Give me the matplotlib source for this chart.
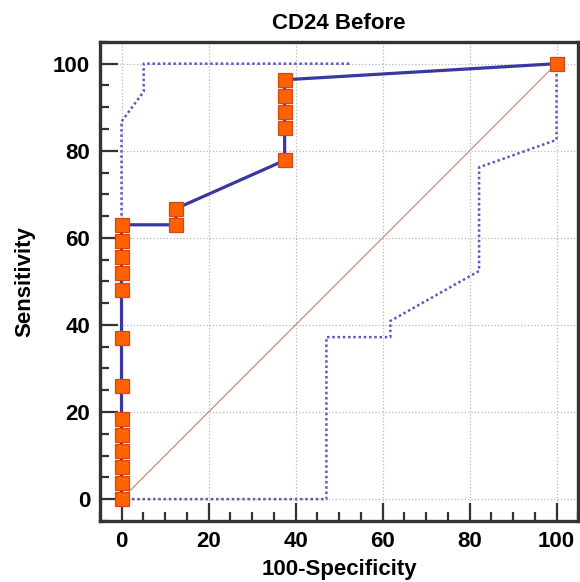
import matplotlib.pyplot as plt
import numpy as np
from matplotlib.ticker import MultipleLocator

plt.rcParams['font.family'] = ['Liberation Sans', 'DejaVu Sans']
plt.rcParams['font.weight'] = 'bold'

# ROC points (100-Specificity, Sensitivity)
fpr = [0, 0, 0, 0, 0, 0, 0, 0, 0, 0, 0, 0, 0,
       12.5, 12.5,
       37.5, 37.5, 37.5, 37.5, 37.5,
       100]
tpr = [0, 3.7, 7.4, 11.1, 14.8, 18.5, 25.9, 37.0, 48.1, 51.9, 55.6, 59.3, 63.0,
       63.0, 66.7,
       77.8, 85.2, 88.9, 92.6, 96.3,
       100]

# confidence bounds
upper_x = [0, 0, 5.1, 5.1, 52.8]
upper_y = [0, 86.7, 93.6, 100, 100]
lower_x = [0, 47.1, 47.1, 61.8, 61.8, 82.2, 82.2, 100, 100]
lower_y = [0, 0, 37.2, 37.2, 40.9, 52.4, 76.2, 82.5, 100]

fig = plt.figure(figsize=(5.8, 5.82), dpi=100)
ax = fig.add_axes([0.172, 0.105, 0.825, 0.823])

ax.set_xlim(-5, 105)
ax.set_ylim(-5, 105)

# grid
ax.xaxis.set_major_locator(MultipleLocator(20))
ax.yaxis.set_major_locator(MultipleLocator(20))
ax.xaxis.set_minor_locator(MultipleLocator(5))
ax.yaxis.set_minor_locator(MultipleLocator(5))
ax.grid(True, which='major', color='#b8b8b8', linestyle=':', linewidth=0.9)
ax.set_axisbelow(True)

# reference diagonal
ax.plot([0, 100], [0, 100], color='#d08a80', linewidth=0.9, zorder=2)

# CI curves
ax.plot(upper_x, upper_y, color='#5a5ac0', linestyle=(0, (1, 1.1)), linewidth=1.8, zorder=3)
ax.plot(lower_x, lower_y, color='#5a5ac0', linestyle=(0, (1, 1.1)), linewidth=1.8, zorder=3)

# ROC curve
ax.plot(fpr, tpr, color='#3838a0', linewidth=2.3, zorder=4)
ax.plot(fpr, tpr, linestyle='none', marker='s', markersize=10,
        markerfacecolor='#ff6000', markeredgecolor='#d04818', markeredgewidth=0.9,
        zorder=5, clip_on=False)

for s in ax.spines.values():
    s.set_color('#333333')
    s.set_linewidth(2.4)

ax.tick_params(which='major', direction='in', length=13, width=1.6, color='#333333',
               labelsize=16, pad=7)
ax.tick_params(which='minor', direction='in', length=6.5, width=1.6, color='#333333')
ax.tick_params(top=False, right=False, which='both')

for lab in ax.get_xticklabels() + ax.get_yticklabels():
    lab.set_fontweight('bold')

ax.set_xlabel('100-Specificity', fontsize=16, fontweight='bold', labelpad=5)
ax.set_ylabel('Sensitivity', fontsize=16, fontweight='bold', labelpad=13)
ax.set_title('CD24 Before', fontsize=16, fontweight='bold', pad=9)

fig.savefig('out.png', dpi=100)
